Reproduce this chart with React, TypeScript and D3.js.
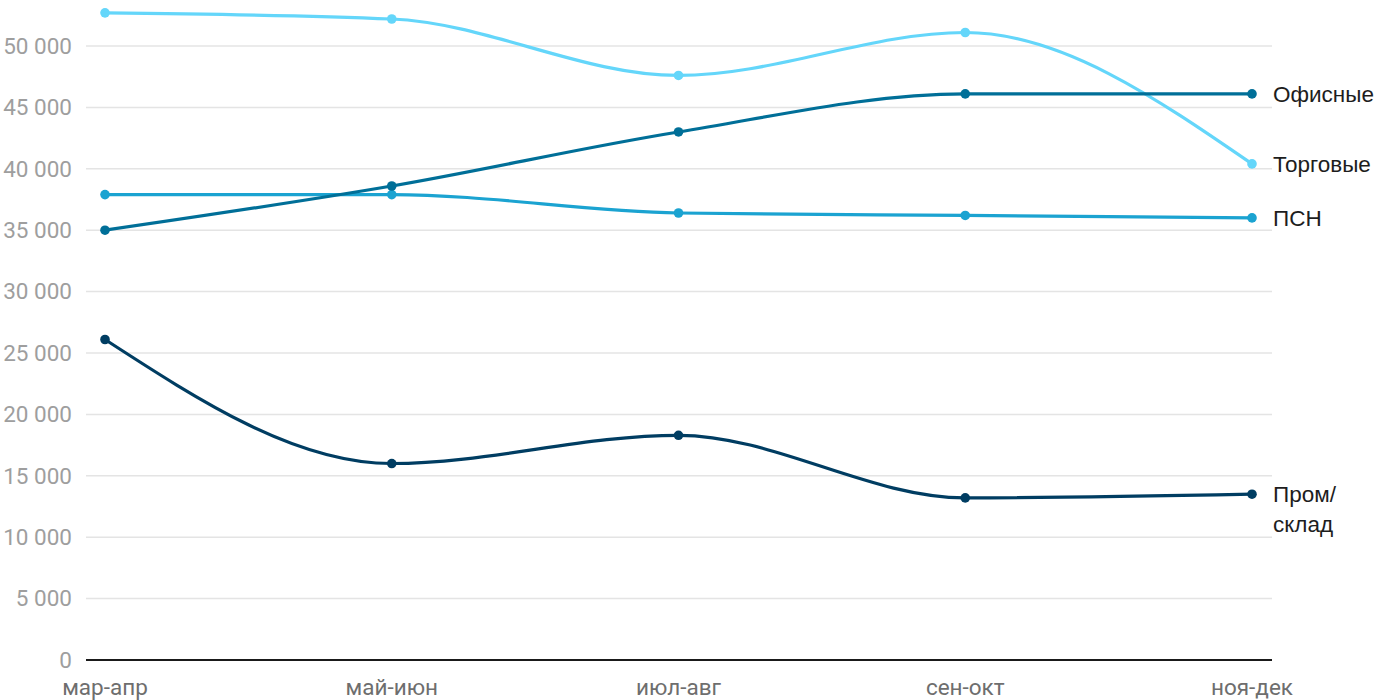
import React from "react";
import * as d3 from "d3";

const categories = ["мар-апр", "май-июн", "июл-авг", "сен-окт", "ноя-дек"];
const trade = [52700, 52200, 47600, 51100, 40400];
const office = [35000, 38600, 43000, 46100, 46100];
const psn = [37900, 37900, 36400, 36200, 36000];
const industrial = [26100, 16000, 18300, 13200, 13500];
const yTicks = [0, 5000, 10000, 15000, 20000, 25000, 30000, 35000, 40000, 45000, 50000];

const seriesList = [
  { name: ["Торговые"], values: trade, color: "#64d6fa" },
  { name: ["ПСН"], values: psn, color: "#1ba3d1" },
  { name: ["Офисные"], values: office, color: "#006f98" },
  { name: ["Пром/", "склад"], values: industrial, color: "#003d62" },
];

export default function App() {
  const W = 1400, H = 700;
  const x = d3.scalePoint<string>().domain(categories).range([105, 1252]);
  const y = d3.scaleLinear().domain([0, 50000]).range([660, 46]);
  const line = d3.line<number>()
    .x((_, i) => x(categories[i]) as number)
    .y((d) => y(d))
    .curve(d3.curveMonotoneX);
  const fmt = (v: number) => (v === 0 ? "0" : d3.format(",")(v).replace(/,/g, " "));
  return (
    <svg width={W} height={H} style={{ position: "absolute", left: 0, top: 0, fontFamily: "Roboto, sans-serif" }}>
      <rect width={W} height={H} fill="#fff" />
      {yTicks.map((t) => (
        <g key={t}>
          {t !== 0 && <line x1={86} x2={1272} y1={y(t)} y2={y(t)} stroke="#e4e4e4" strokeWidth={1.5} />}
          <text x={72} y={y(t)} dy="0.35em" textAnchor="end" fontSize={22.5} fill="#9e9e9e">{fmt(t)}</text>
        </g>
      ))}
      <line x1={86} x2={1272} y1={y(0)} y2={y(0)} stroke="#1a1a1a" strokeWidth={2} />
      {categories.map((c) => (
        <text key={c} x={x(c)} y={695} textAnchor="middle" fontSize={22.5} fill="#6e6e6e">{c}</text>
      ))}
      {seriesList.map((s) => (
        <g key={s.name.join("")}>
          <path d={line(s.values) || ""} fill="none" stroke={s.color} strokeWidth={3.2} />
          {s.values.map((v, i) => (
            <circle key={i} cx={x(categories[i])} cy={y(v)} r={4.8} fill={s.color} />
          ))}
          <text y={y(s.values[s.values.length - 1])} fontSize={22.5} fill="#1d1d1d" style={{ fontFamily: "'Liberation Sans', Arial, sans-serif" }}>
            {s.name.map((n, i) => (
              <tspan key={i} x={1273} dy={i === 0 ? "0.35em" : 30}>{n}</tspan>
            ))}
          </text>
        </g>
      ))}
    </svg>
  );
}
